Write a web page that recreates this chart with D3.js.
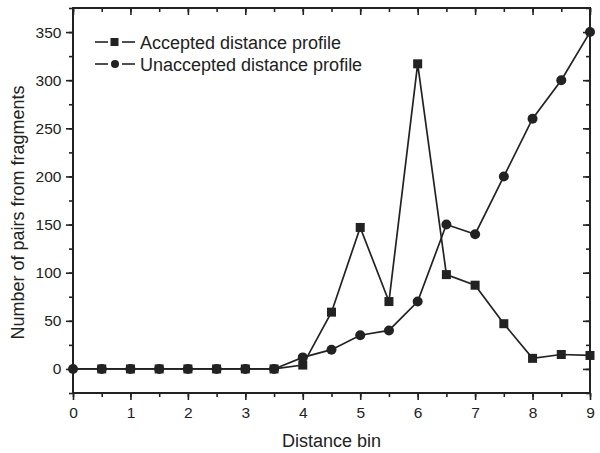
<!DOCTYPE html>
<html>
<head>
<meta charset="utf-8">
<script src="https://cdn.jsdelivr.net/npm/d3@7"></script>
<style>
  body { margin: 0; background: #fff; }
  svg text { font-family: "Liberation Sans", Arial, sans-serif; fill: #222; }
</style>
</head>
<body>
<div id="chart"></div>
<script>
// distance bins and the two profiles
var bins = [0, 0.5, 1, 1.5, 2, 2.5, 3, 3.5, 4, 4.5, 5, 5.5, 6, 6.5, 7, 7.5, 8, 8.5, 9];
var accepted = [0, 0, 0, 0, 0, 0, 0, 0, 4, 59, 147, 70, 317, 98, 87, 47, 11, 15, 14];
var unaccepted = [0, 0, 0, 0, 0, 0, 0, 0, 12, 20, 35, 40, 70, 150, 140, 200, 260, 300, 350];
var seriesNames = ["Accepted distance profile", "Unaccepted distance profile"];
var xTicks = [0, 1, 2, 3, 4, 5, 6, 7, 8, 9];
var yTicks = [0, 50, 100, 150, 200, 250, 300, 350];

var W = 600, H = 453;
var padL = 73, padR = 590, padT = 8, padB = 393;
var ink = "#222";

var svg = d3.select("#chart").append("svg").attr("width", W).attr("height", H);

var x = d3.scaleLinear().domain([0, 9]).range([padL, padR]);
var y = d3.scaleLinear().domain([-25, 375]).range([padB, padT]);

var xMinor = d3.range(0, 9.01, 0.5);
var yMinor = d3.range(-25, 375.1, 25);

// bottom axis: outward ticks
var gB = svg.append("g").attr("transform", "translate(0," + padB + ")")
  .call(d3.axisBottom(x).tickValues(xMinor).tickSize(4).tickFormat(""));
gB.append("g").call(d3.axisBottom(x).tickValues(xTicks).tickSize(7).tickFormat(d3.format("d")));
// top axis: inward ticks
var gT = svg.append("g").attr("transform", "translate(0," + padT + ")")
  .call(d3.axisBottom(x).tickValues(xMinor).tickSize(4).tickFormat(""));
gT.append("g").call(d3.axisBottom(x).tickValues(xTicks).tickSize(7).tickFormat(""));
// left axis: outward ticks
var gL = svg.append("g").attr("transform", "translate(" + padL + ",0)")
  .call(d3.axisLeft(y).tickValues(yMinor).tickSize(4).tickFormat(""));
gL.append("g").call(d3.axisLeft(y).tickValues(yTicks).tickSize(7).tickFormat(d3.format("d")));
// right axis: inward ticks
var gR = svg.append("g").attr("transform", "translate(" + padR + ",0)")
  .call(d3.axisLeft(y).tickValues(yMinor).tickSize(4).tickFormat(""));
gR.append("g").call(d3.axisLeft(y).tickValues(yTicks).tickSize(7).tickFormat(""));

svg.selectAll(".domain").remove();
svg.selectAll(".tick line").attr("stroke", ink).attr("stroke-width", 1.6);
svg.selectAll(".tick text").attr("font-size", 15.5).style("fill", ink)
  .style("font-family", "Liberation Sans, Arial, sans-serif");
gB.selectAll(".tick text").attr("dy", "0.95em");
gL.selectAll(".tick text").attr("dx", "-0.1em");

svg.append("rect").attr("x", padL).attr("y", padT)
  .attr("width", padR - padL).attr("height", padB - padT)
  .attr("fill", "none").attr("stroke", ink).attr("stroke-width", 2);

var line = d3.line().x(function(d) { return x(d[0]); }).y(function(d) { return y(d[1]); });
var accData = bins.map(function(b, i) { return [b, accepted[i]]; });
var unaData = bins.map(function(b, i) { return [b, unaccepted[i]]; });

svg.append("path").datum(unaData).attr("d", line)
  .attr("fill", "none").attr("stroke", ink).attr("stroke-width", 1.7);
svg.append("path").datum(accData).attr("d", line)
  .attr("fill", "none").attr("stroke", ink).attr("stroke-width", 1.7);

svg.selectAll("circle.una").data(unaData).enter().append("circle")
  .attr("cx", function(d) { return x(d[0]); }).attr("cy", function(d) { return y(d[1]); })
  .attr("r", 5).attr("fill", ink);
svg.selectAll("rect.acc").data(accData.slice(1)).enter().append("rect")
  .attr("x", function(d) { return x(d[0]) - 4.5; }).attr("y", function(d) { return y(d[1]) - 4.5; })
  .attr("width", 9).attr("height", 9).attr("fill", ink);

// legend
var legend = svg.append("g").attr("transform", "translate(95,42)");
seriesNames.forEach(function(name, i) {
  var g = legend.append("g").attr("transform", "translate(0," + (i * 22) + ")");
  g.append("line").attr("x1", 0).attr("x2", 13).attr("stroke", ink).attr("stroke-width", 1.6);
  g.append("line").attr("x1", 27).attr("x2", 40).attr("stroke", ink).attr("stroke-width", 1.6);
  if (i === 0) g.append("rect").attr("x", 15.5).attr("y", -4).attr("width", 8).attr("height", 8).attr("fill", ink);
  else g.append("circle").attr("cx", 20).attr("r", 4).attr("fill", ink);
  g.append("text").attr("x", 45).attr("y", 6.5).attr("font-size", 18).text(name);
});

svg.append("text").attr("x", (padL + padR) / 2).attr("y", 447)
  .attr("text-anchor", "middle").attr("font-size", 18).text("Distance bin");
svg.append("text").attr("transform", "translate(24," + ((padT + padB) / 2 + 12) + ") rotate(-90)")
  .attr("text-anchor", "middle").attr("font-size", 18).text("Number of pairs from fragments");
</script>
</body>
</html>
